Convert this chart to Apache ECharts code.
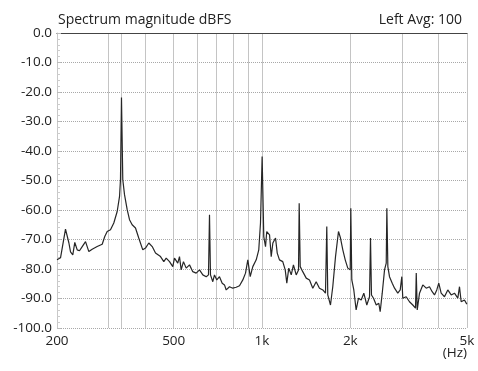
<!DOCTYPE html>
<html><head><meta charset="utf-8">
<script src="https://cdn.jsdelivr.net/npm/echarts@6/dist/echarts.min.js"></script>
<style>html,body{margin:0;padding:0;background:#fff}#c{width:478px;height:371px}</style>
</head><body><div id="c"></div>
<script>
const freqHz = [200,205.6,213.8,219.5,222.4,226.4,230,234.4,238.6,243.8,250.2,256.8,263.6,274.2,285.2,291,296.6,304.4,312.4,320.8,326.8,329.2,331.8,335.2,339.8,347,353.4,360.8,370.4,380,392.2,400.6,411.2,422.4,433.4,450.8,462.6,
471.4,483.8,496.4,503,516.2,523.2,530.2,539.8,551.4,566,580.8,596.4,612.2,628.4,645.4,657,662.2,667.4,679.6,688.6,701.2,716.2,731.6,745,755,774.8,795.2,816.6,838.2,860.2,878.6,894.6,911.6,930.4,955.6,975,988.2,1001,1014,1028,1038,1061,1075,1089,1112,1127,1147,1177,1200,1215,1234,1258,1280,1308,1332,1339,1350,1377,1415,1452,1490,1530,1570,1612,1646,1663,1676,1712,1743,1781,1823,1852,1886,1922,1961,1999,2008,2024,2056,2094,2133,2179,2224,2277,2326,2344,2362,2400,2452,2502,2529,2570,2617,2652,2665,2686,2721,2780,2831,2904,2960,2997,3020,3102,3183,3267,3338,3357,3383,3444,3534,3630,3724,3804,3874,3944,4006,4082,4190,4300,4416,4532,4652,4714,4776,4902,4992];
const magDb = [-76.9,-76.2,-66.5,-71.1,-74.2,-75.2,-71.0,-73.5,-73.8,-72.4,-70.7,-74.1,-73.3,-72.4,-71.6,-69.0,-67.3,-66.7,-64.4,-60.5,-55.4,-49.7,-21.9,-49.7,-54.8,-59.9,-63.3,-65.0,-66.1,-69.5,-73.5,-72.9,-71.2,-72.4,-74.6,-75.8,-77.5,
-76.3,-77.5,-79.2,-76.3,-78.0,-75.8,-80.3,-77.5,-79.7,-78.6,-80.9,-81.4,-80.3,-82.0,-82.6,-82.0,-61.6,-82.0,-84.3,-82.0,-83.7,-82.6,-84.8,-85.4,-87.1,-86.0,-86.5,-86.2,-85.7,-83.7,-81.4,-76.9,-82.6,-79.2,-76.9,-73.5,-64.4,-41.9,-69.0,-72.4,-67.3,-68.4,-75.8,-71.2,-69.5,-74.6,-76.9,-77.5,-80.3,-84.8,-79.7,-82.0,-78.6,-82.0,-80.3,-57.7,-79.2,-80.9,-83.1,-83.7,-86.5,-84.3,-86.5,-87.1,-88.2,-65.6,-88.8,-92.2,-86.0,-75.8,-67.3,-69.5,-73.5,-76.9,-79.7,-80.3,-59.4,-83.7,-87.1,-93.9,-89.9,-90.5,-88.2,-92.2,-89.4,-69.5,-88.8,-89.9,-92.2,-91.6,-94.5,-88.2,-80.3,-78.0,-59.4,-79.2,-82.6,-84.8,-86.5,-88.2,-87.1,-82.6,-89.9,-89.4,-91.1,-92.2,-93.3,-81.4,-93.9,-88.2,-85.4,-86.5,-86.0,-87.7,-88.8,-87.1,-84.8,-88.2,-89.4,-87.1,-88.8,-88.2,-89.9,-86.0,-91.1,-90.5,-91.9];
const xLabelValues = [200,500,1000,2000,5000];
const xGridValues = [200,300,331,400,500,600,700,800,900,1000,2000,3000,4000,5000];
const titleText = 'Spectrum magnitude dBFS';
const avgText = 'Left Avg: 100';
const unitText = '(Hz)';

const font = "'Open Sans', 'Noto Sans', sans-serif";
const chart = echarts.init(document.getElementById('c'), null, {renderer:'canvas'});
const pts = freqHz.map((f,i)=>[f, magDb[i]]);
chart.setOption({
  animation:false,
  backgroundColor:'#fff',
  title:[
    {text:titleText,left:53,top:8,textStyle:{fontFamily:font,fontSize:14,fontWeight:'normal',color:'#222'}},
    {text:avgText,right:11,top:8,textStyle:{fontFamily:font,fontSize:14,fontWeight:'normal',color:'#222'}},
    {text:unitText,right:6,top:341,textStyle:{fontFamily:font,fontSize:13.5,fontWeight:'normal',color:'#222'}}
  ],
  grid:{left:57,right:11,top:33,bottom:43,containLabel:false},
  xAxis:[{
    type:'log',logBase:10,min:200,max:5000,
    axisLine:{show:true,lineStyle:{color:'#c8c8c8',width:1}},
    axisTick:{show:false,customValues:xGridValues},
    splitLine:{show:true,customValues:xGridValues,lineStyle:{color:'#c4c4c4',width:1,type:'solid'}},
    minorSplitLine:{show:false},
    axisLabel:{customValues:xLabelValues,fontFamily:font,fontSize:13.5,color:'#222',margin:6,
      formatter:v=> v>=1000 ? (v/1000)+'k' : String(v)}
  },{
    type:'log',logBase:10,min:200,max:5000,position:'top',
    axisLine:{show:true,lineStyle:{color:'#444',width:1}},
    axisTick:{show:false},axisLabel:{show:false},splitLine:{show:false}
  }],
  yAxis:{
    type:'value',min:-100,max:0,interval:10,
    axisLine:{show:true,lineStyle:{color:'#c8c8c8'}},
    axisTick:{show:true,inside:true,length:4,lineStyle:{color:'#bbb'}},
    minorTick:{show:true,splitNumber:5,length:3,lineStyle:{color:'#ccc'}},
    splitLine:{show:true,lineStyle:{color:'#a8a8a8',type:'dotted',width:1}},
    axisLabel:{fontFamily:font,fontSize:13.5,color:'#222',margin:5,formatter:v=>v.toFixed(1)}
  },
  series:[{
    type:'line',xAxisIndex:0,data:pts,showSymbol:false,symbol:'none',
    lineStyle:{color:'#262626',width:1.2},
    emphasis:{disabled:true}
  }]
});
</script></body></html>
